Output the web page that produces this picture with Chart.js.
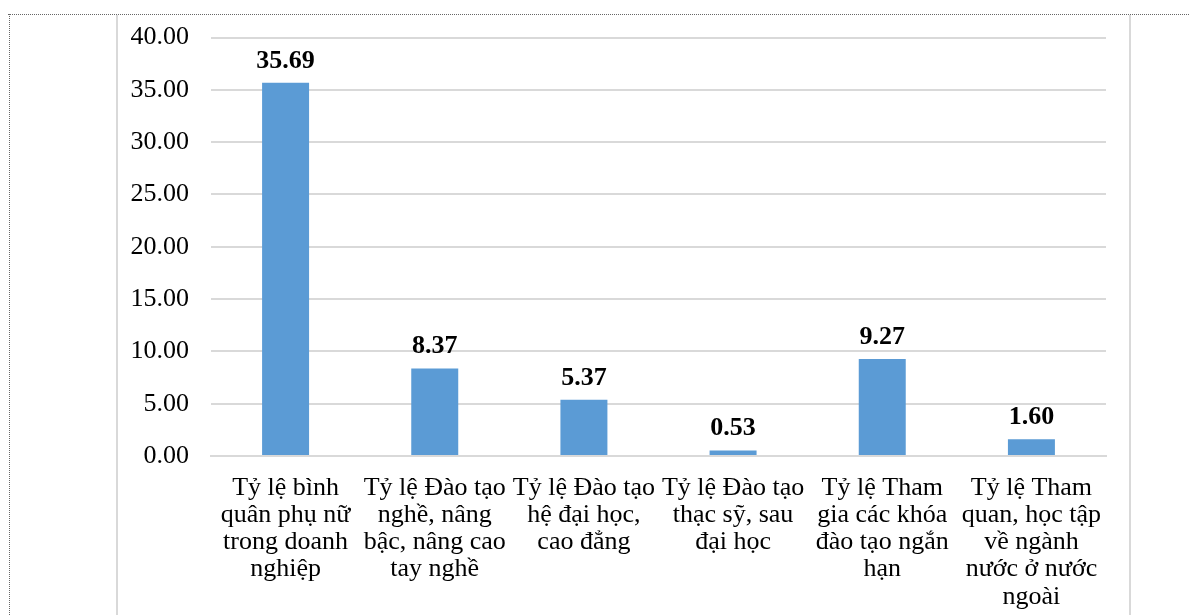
<!DOCTYPE html>
<html>
<head>
<meta charset="utf-8">
<script src="https://cdn.jsdelivr.net/npm/chart.js@4.4.1/dist/chart.umd.min.js"></script>
<style>
  html, body { margin: 0; padding: 0; background: #fff; }
  #wrap { position: relative; width: 1189px; height: 615px; }
</style>
</head>
<body>
<div id="wrap"><canvas id="chart" width="1189" height="615"></canvas></div>
<script>
// Category labels, already split into the lines they wrap to
const categories = [
  ["Tỷ lệ bình", "quân phụ nữ", "trong doanh", "nghiệp"],
  ["Tỷ lệ Đào tạo", "nghề, nâng", "bậc, nâng cao", "tay nghề"],
  ["Tỷ lệ Đào tạo", "hệ đại học,", "cao đẳng"],
  ["Tỷ lệ Đào tạo", "thạc sỹ, sau", "đại học"],
  ["Tỷ lệ Tham", "gia các khóa", "đào tạo ngắn", "hạn"],
  ["Tỷ lệ Tham", "quan, học tập", "về ngành", "nước ở nước", "ngoài"],
];
const values = [35.69, 8.37, 5.37, 0.53, 9.27, 1.6];
const yTicks = [0, 5, 10, 15, 20, 25, 30, 35, 40];

const FONT = "'Liberation Serif', 'Times New Roman', serif";

// page frame: dotted outline and the grey chart border
const framePlugin = {
  id: "frame",
  beforeDraw(chart) {
    const ctx = chart.ctx;
    ctx.save();
    ctx.strokeStyle = "#d9d9d9";
    ctx.lineWidth = 2;
    ctx.beginPath();
    ctx.moveTo(117, 15);
    ctx.lineTo(117, 615);
    ctx.moveTo(1130, 15);
    ctx.lineTo(1130, 615);
    ctx.stroke();

    ctx.strokeStyle = "#666";
    ctx.lineWidth = 1;
    ctx.setLineDash([1, 1]);
    ctx.beginPath();
    ctx.moveTo(8, 14.5);
    ctx.lineTo(1189, 14.5);
    ctx.moveTo(9.5, 14);
    ctx.lineTo(9.5, 615);
    ctx.stroke();
    ctx.restore();
  },
};

// bold value above every bar
const valueLabels = {
  id: "valueLabels",
  afterDatasetsDraw(chart) {
    const ctx = chart.ctx;
    const meta = chart.getDatasetMeta(0);
    ctx.save();
    ctx.font = "bold 26px " + FONT;
    ctx.fillStyle = "#000";
    ctx.textAlign = "center";
    ctx.textBaseline = "alphabetic";
    meta.data.forEach((bar, i) => {
      ctx.fillText(values[i].toFixed(2), bar.x, bar.y - 15);
    });
    ctx.restore();
  },
};

new Chart(document.getElementById("chart"), {
  type: "bar",
  data: {
    labels: categories,
    datasets: [{
      data: values,
      backgroundColor: "#5b9bd5",
      borderWidth: 0,
      categoryPercentage: 1,
      barPercentage: 0.315,
    }],
  },
  options: {
    responsive: false,
    animation: false,
    layout: { padding: { left: 118, right: 83, top: 26, bottom: 0 } },
    plugins: {
      legend: { display: false },
      tooltip: { enabled: false },
    },
    scales: {
      x: {
        grid: { display: false },
        border: { color: "#d9d9d9", width: 2 },
        ticks: {
          color: "#000",
          font: { family: FONT, size: 26, lineHeight: 1.04 },
          padding: 11,
          maxRotation: 0,
          autoSkip: false,
        },
        afterFit(scale) { scale.height = 159; },
      },
      y: {
        min: 0,
        max: 40,
        afterBuildTicks(scale) {
          scale.ticks = yTicks.map((v) => ({ value: v }));
        },
        grid: { color: "#d9d9d9", lineWidth: 2, drawTicks: false },
        border: { display: false },
        ticks: {
          color: "#000",
          font: { family: FONT, size: 26 },
          padding: 22,
          callback: (v) => Number(v).toFixed(2),
        },
        afterFit(scale) { scale.width = 93; },
      },
    },
  },
  plugins: [framePlugin, valueLabels],
});
</script>
</body>
</html>
